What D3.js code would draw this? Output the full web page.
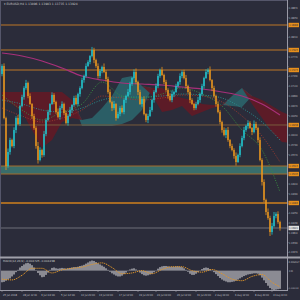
<!DOCTYPE html>
<html><head><meta charset="utf-8">
<script src="https://cdn.jsdelivr.net/npm/d3@7"></script>
<style>html,body{margin:0;padding:0;background:#2b2c3a;overflow:hidden}svg{display:block}</style>
</head><body>
<svg id="c" width="300" height="300"></svg>
<script>
// ---------- DATA ----------
const title = "EURUSD,H4  1.13896 1.13983 1.13735 1.13924";
const firstOpen = 1.17385;
const closes = [
 1.17565,1.16395,1.15315,1.1563,1.1590,1.15765,1.16125,1.16395,1.1626,1.16665,
 1.16868,1.1707,1.17183,1.1689,1.1671,1.1644,1.1617,1.15765,1.1545,1.15675,
 1.15563,1.16035,1.1635,1.1653,1.1671,1.16913,1.16755,1.1653,1.16418,1.1662,
 1.1671,1.16508,1.16283,1.1644,1.16575,1.16688,1.16845,1.1671,1.16935,1.1707,
 1.1725,1.1734,1.17565,1.17655,1.1779,1.17925,1.1770,1.17565,1.1734,1.17453,
 1.17543,1.1743,1.17273,1.1698,1.16755,1.1662,1.1671,1.16395,1.16485,1.1662,
 1.1653,1.1680,1.1689,1.1698,1.1716,1.17295,1.1743,1.17205,1.1698,1.1671,
 1.16823,1.16485,1.1635,1.1644,1.16575,1.1680,1.1698,1.17115,1.1734,1.17475,
 1.17363,1.17205,1.17025,1.1689,1.1680,1.16935,1.1698,1.17115,1.17205,1.1734,
 1.1743,1.17295,1.17115,1.1698,1.1680,1.1671,1.1662,1.1671,1.1680,1.16935,
 1.17115,1.17295,1.1743,1.17475,1.1725,1.1707,1.1689,1.1671,1.1653,1.16305,
 1.16125,1.16013,1.16125,1.1590,1.15765,1.15675,1.1554,1.15405,1.15563,1.15765,
 1.15945,1.16125,1.16215,1.16283,1.1617,1.1608,1.1626,1.1617,1.1590,1.1545,
 1.14955,1.1455,1.1428,1.14145,1.1383,1.13965,1.1419,1.14235,1.14055,1.1392
];
// wick lengths above / below the body, in pips
const hiPips = [
 4,6,3,8,5,3,6,4,7,3, 5,4,7,3,6,2,5,4,9,6, 3,7,4,5,2,6,4,3,8,5, 6,3,5,4,7,2,5,6,3,4,
 5,3,6,4,2,7,5,3,6,4, 3,8,4,5,6,3,7,2,5,4, 6,4,3,7,5,2,6,8,3,5, 4,6,2,5,7,3,4,6,5,3,
 7,3,5,4,6,8,3,5,2,6, 4,5,7,3,6,4,2,5,7,3, 5,3,6,4,8,2,5,3,6,4, 3,6,4,7,2,5,4,8,3,6,
 5,7,3,6,4,2,8,5,3,6, 4,6,3,8,5,7,9,4,6,3
];
const loPips = [
 5,3,9,4,6,3,5,7,2,4, 3,6,4,5,2,7,4,6,8,3, 6,4,5,3,7,2,5,4,3,6, 4,5,3,6,2,7,4,3,5,6,
 3,6,4,2,5,3,7,4,6,5, 5,2,6,4,3,7,4,6,2,5, 3,5,7,2,6,4,3,5,7,2, 6,3,5,7,2,4,6,3,5,4,
 2,5,4,6,3,5,7,2,4,6, 5,3,6,4,7,2,5,4,3,6, 4,6,2,5,3,7,4,6,3,5, 6,3,7,4,5,3,6,8,2,5,
 3,5,4,6,2,7,3,4,6,3, 8,5,7,4,9,6,3,5,4,6
];
const levelsMajor = [1.18488, 1.17925, 1.17475];
const levelMid = 1.16238;
const zone = [1.15135, 1.15315];
const levelLow = 1.14483;
const currentPrice = 1.1392;

const cloudIdx = [0,5,10,15,20,25,30,35,40,45,50,55,60,65,70,75,80,85,90,95,100,105,110,115,120,125,130,135,140,145];
const spanA = [1.1680,1.1671,1.1653,1.16125,1.1572,1.1590,1.16305,1.16395,1.1635,1.16395,1.1662,1.1689,1.17295,1.1734,1.17115,1.16913,1.1653,1.16575,1.16665,1.1644,1.1653,1.1662,1.16665,1.1689,1.1707,1.1671,1.16395,1.1608,1.15855,1.15833];
const spanB = [1.1698,1.1698,1.1698,1.1698,1.1698,1.1698,1.1698,1.1680,1.16215,1.16215,1.16215,1.16215,1.1626,1.1635,1.16575,1.1707,1.1707,1.16913,1.16845,1.1680,1.1671,1.16688,1.16688,1.16665,1.16643,1.1689,1.1680,1.16665,1.1653,1.1644];

const maIdx = [0,10,20,30,40,50,60,70,80,90,100,110,120,130,139];
const maLong  = [1.17858,1.1779,1.17678,1.1752,1.1734,1.1725,1.17183,1.1716,1.17138,1.17093,1.17048,1.1698,1.1689,1.1671,1.16463];
const maGreen = [1.16913,1.16575,1.1635,1.1653,1.1671,1.17205,1.1689,1.16845,1.16935,1.1707,1.16935,1.16665,1.16125,1.15675,1.1473];
const maRed   = [1.1662,1.1644,1.16305,1.16395,1.16575,1.1689,1.16845,1.1680,1.16845,1.16913,1.1689,1.16755,1.1644,1.1599,1.15405];
const maTeal  = [1.1680,1.1671,1.16575,1.1653,1.1662,1.1680,1.16868,1.16868,1.1689,1.16935,1.16913,1.16845,1.1662,1.16305,1.1590];

const macd = [
 -0.0030,-0.0029,-0.0026,-0.0023,-0.0020,-0.0015,-0.0010,-0.0004,0.0002,0.0008,
 0.0012,0.0016,0.0019,0.0020,0.0018,0.0014,0.0008,0.0001,-0.0006,-0.0012,
 -0.0017,-0.0016,-0.0011,-0.0005,0.0002,0.0007,0.0008,0.0006,0.0005,0.0006,
 0.0007,0.0006,0.0005,0.0006,0.0007,0.0008,0.0009,0.0009,0.0010,0.0012,
 0.0013,0.0015,0.0018,0.0021,0.0024,0.0026,0.0025,0.0022,0.0019,0.0016,
 0.0013,0.0010,0.0006,0.0002,-0.0003,-0.0007,-0.0010,-0.0013,-0.0015,-0.0015,
 -0.0013,-0.0009,-0.0005,-0.0001,0.0003,0.0005,0.0006,0.0003,-0.0001,-0.0005,
 -0.0009,-0.0012,-0.0013,-0.0012,-0.0010,-0.0008,-0.0004,0.0000,0.0005,0.0009,
 0.0011,0.0012,0.0012,0.0011,0.0010,0.0010,0.0010,0.0011,0.0011,0.0010,
 0.0009,0.0006,0.0002,-0.0003,-0.0008,-0.0011,-0.0011,-0.0008,-0.0004,0.0000,
 0.0004,0.0007,0.0008,0.0007,0.0004,0.0000,-0.0004,-0.0009,-0.0014,-0.0019,
 -0.0023,-0.0026,-0.0028,-0.0030,-0.0030,-0.0029,-0.0028,-0.0026,-0.0023,-0.0020,
 -0.0017,-0.0014,-0.0012,-0.0010,-0.0009,-0.0008,-0.0007,-0.0007,-0.0008,-0.0012,
 -0.0018,-0.0025,-0.0032,-0.0039,-0.0045,-0.0049,-0.0050,-0.0049,-0.0048,-0.0047
];
const signalIdx = [0,5,10,15,20,25,30,35,40,45,50,55,60,65,70,75,80,85,90,95,100,105,110,115,120,125,130,135,139];
const signal = [-0.0022,-0.0024,-0.0012,0.0006,0.0006,-0.0006,0.0002,0.0006,0.0009,0.0016,0.0020,0.0008,-0.0008,-0.0006,0.0000,-0.0008,0.0003,0.0010,0.0010,0.0000,-0.0004,0.0003,-0.0008,-0.0022,-0.0026,-0.0015,-0.0010,-0.0030,-0.0042];
const macdLabel = "MACD(12,26,9) -0.004725 -0.004238";
const macdTicks = ["0.003027", "0.00", "-0.005012"];

const priceTicks = [1.18870,1.18650,1.18430,1.18210,1.17990,1.17770,1.17550,1.17330,1.17110,1.16890,1.16670,1.16450,1.16230,1.16010,1.15790,1.15570,1.15350,1.15130,1.14910,1.14690,1.14470,1.14250,1.14030,1.13810,1.13590,1.13370];
const dateIdx = [0,10,19,29,39,48,58,68,77,87,97,106,116,126,135];
const dateLabels = ["25 Jun 2018","28 Jun 12:00","3 Jul 04:00","5 Jul 12:00","10 Jul 20:00","13 Jul 04:00","17 Jul 12:00","19 Jul 20:00","24 Jul 04:00","26 Jul 12:00","31 Jul 20:00","2 Aug 04:00","6 Aug 12:00","8 Aug 20:00","13 Aug 04:00"];

// ---------- DRAW ----------
const svg = d3.select("#c");
const L = 1, R = 287, T = 3, B = 256, MT = 259, MB = 290;
const font = "DejaVu Sans, Liberation Sans, sans-serif";
const x = d3.scaleLinear().domain([-0.5, 142.5]).range([L, R]);
const y = d3.scaleLinear().domain([1.13290, 1.18983]).range([B, T]);
const ym = d3.scaleLinear().domain([-0.0050, 0.0030]).range([MB, MT]);

svg.append("rect").attr("width",300).attr("height",300).attr("fill","#2b2c3a");
const defs = svg.append("defs");
defs.append("clipPath").attr("id","mainClip").append("rect").attr("x",L).attr("y",T).attr("width",R-L).attr("height",B-T);
defs.append("clipPath").attr("id","macdClip").append("rect").attr("x",L).attr("y",MT-1).attr("width",R-L).attr("height",MB-MT+1);

const main = svg.append("g").attr("clip-path","url(#mainClip)");

// Ichimoku cloud
const cloud = cloudIdx.map((d,k)=>({i:d,a:spanA[k],b:spanB[k]}));
main.append("path").datum(cloud)
  .attr("d", d3.area().x(d=>x(d.i)).y0(d=>y(d.b)).y1(d=>y(Math.max(d.a,d.b))))
  .attr("fill","#2c6c72").attr("opacity",0.8);
main.append("path").datum(cloud)
  .attr("d", d3.area().x(d=>x(d.i)).y0(d=>y(d.a)).y1(d=>y(Math.max(d.a,d.b))))
  .attr("fill","#621a26").attr("opacity",0.9);

// support zone
main.append("rect").attr("x",L).attr("width",R-L)
  .attr("y",y(zone[1])).attr("height",y(zone[0])-y(zone[1]))
  .attr("fill","#3b7471").attr("opacity",0.9);

// levels
const hl = (p,color,w)=>main.append("line").attr("x1",L).attr("x2",R).attr("y1",y(p)).attr("y2",y(p)).attr("stroke",color).attr("stroke-width",w);
levelsMajor.forEach(p=>hl(p,"#8e5e2e",1.5));
hl(levelMid,"#7a5c3c",1);
zone.forEach(p=>hl(p,"#a56c2a",1));
hl(levelLow,"#d0801e",1.5);
hl(currentPrice,"#6e6e78",1);

// moving averages
const maLine = d3.line().x((d,k)=>x(maIdx[k])).y(d=>y(d)).curve(d3.curveMonotoneX);
main.append("path").datum(maTeal).attr("d",maLine).attr("fill","none").attr("stroke","#2a8a8a").attr("stroke-width",1).attr("stroke-dasharray","1,1.5");
main.append("path").datum(maRed).attr("d",maLine).attr("fill","none").attr("stroke","#9a3a30").attr("stroke-width",1).attr("stroke-dasharray","1,1.5");
main.append("path").datum(maGreen).attr("d",maLine).attr("fill","none").attr("stroke","#3a8a40").attr("stroke-width",1).attr("stroke-dasharray","1,1.5");
main.append("path").datum(maLong).attr("d",maLine).attr("fill","none").attr("stroke","#a8307a").attr("stroke-width",1.2);

// candles
const candles = closes.map((c,i)=>{
  const o = i===0?firstOpen:closes[i-1];
  return {i,o,c,h:Math.max(o,c)+hiPips[i]*0.0001,l:Math.min(o,c)-loPips[i]*0.0001};
});
const col = d=>d.c>=d.o?"#22c6cf":"#e8961e";
main.selectAll("line.wk").data(candles).join("line").attr("class","wk")
  .attr("x1",d=>x(d.i)).attr("x2",d=>x(d.i)).attr("y1",d=>y(d.h)).attr("y2",d=>y(d.l))
  .attr("stroke",col).attr("stroke-width",0.8);
main.selectAll("rect.cd").data(candles).join("rect").attr("class","cd")
  .attr("x",d=>x(d.i)-0.7).attr("width",1.4)
  .attr("y",d=>Math.min(y(d.o),y(d.c)))
  .attr("height",d=>Math.max(1,Math.abs(y(d.o)-y(d.c))))
  .attr("fill",col);

// frame
svg.append("rect").attr("x",0.5).attr("y",0.5).attr("width",R).attr("height",MB).attr("fill","none").attr("stroke","#55566a").attr("stroke-width",1);
svg.append("line").attr("x1",R+0.5).attr("x2",R+0.5).attr("y1",0).attr("y2",MB+1).attr("stroke","#9a9aa6").attr("stroke-width",1);
svg.append("line").attr("x1",0).attr("x2",300).attr("y1",257.5).attr("y2",257.5).attr("stroke","#a0a0aa").attr("stroke-width",2);
svg.append("line").attr("x1",0).attr("x2",R+1).attr("y1",MB+0.5).attr("y2",MB+0.5).attr("stroke","#9a9aa6").attr("stroke-width",1);

// title
svg.append("text").attr("x",4).attr("y",5).text("\u25BE "+title).attr("font-family",font).attr("font-size",3).attr("fill","#c8c8c8");

// price axis
const ax = svg.append("g");
const tagged = levelsMajor.concat([levelMid], zone, [levelLow, currentPrice]);
const small = (sel,xx,yy,t,len,fill)=>sel.append("text").attr("x",xx).attr("y",yy).text(t)
  .attr("font-family",font).attr("font-size",2.8).attr("fill",fill)
  .attr("textLength",len).attr("lengthAdjust","spacingAndGlyphs");
priceTicks.forEach(p=>{
  ax.append("line").attr("x1",R).attr("x2",R+1.5).attr("y1",y(p)).attr("y2",y(p)).attr("stroke","#9a9aa6").attr("stroke-width",0.6);
  if (tagged.every(q=>Math.abs(y(q)-y(p))>4.5)) small(ax,R+2,y(p)+1,p.toFixed(5),8.5,"#c0c0c8");
});
const tag = (p,bg,fg)=>{
  ax.append("rect").attr("x",R+1.5).attr("y",y(p)-2.2).attr("width",10.5).attr("height",4.4).attr("fill",bg);
  small(ax,R+2.2,y(p)+1,p.toFixed(5),8.5,fg);
};
levelsMajor.forEach(p=>tag(p,"#e8901c","#2b2c3a"));
tag(levelMid,"#e8901c","#2b2c3a");
zone.forEach(p=>tag(p,"#e8901c","#2b2c3a"));
tag(levelLow,"#e8901c","#2b2c3a");
tag(currentPrice,"#e0e0e0","#2b2c3a");

// MACD panel
const mg = svg.append("g").attr("clip-path","url(#macdClip)");
mg.selectAll("rect.h").data(macd).join("rect").attr("class","h")
  .attr("x",(d,i)=>x(i)-0.8).attr("width",1.6)
  .attr("y",d=>Math.min(ym(0),ym(d))).attr("height",d=>Math.max(0.5,Math.abs(ym(d)-ym(0))))
  .attr("fill","#a4a4aa");
mg.append("path").datum(signal)
  .attr("d",d3.line().x((d,k)=>x(signalIdx[k])).y(d=>ym(d)).curve(d3.curveMonotoneX))
  .attr("fill","none").attr("stroke","#e0962a").attr("stroke-width",1).attr("stroke-dasharray","1.2,0.8");
svg.append("text").attr("x",3).attr("y",262).text(macdLabel).attr("font-family",font).attr("font-size",2.8).attr("fill","#c8c8c8");
svg.append("text").attr("x",R+1.5).attr("y",262.5).text(macdTicks[0]).attr("font-family",font).attr("font-size",2.3).attr("fill","#c0c0c8");
small(svg,R+2,ym(0)+1,macdTicks[1],4,"#c0c0c8");
svg.append("text").attr("x",R+1).attr("y",288.5).text(macdTicks[2]).attr("font-family",font).attr("font-size",2.05).attr("fill","#c0c0c8");

// date axis
dateIdx.forEach((d,k)=>{
  svg.append("line").attr("x1",x(d)).attr("x2",x(d)).attr("y1",MB).attr("y2",MB+2).attr("stroke","#9a9aa6").attr("stroke-width",0.6);
  small(svg,x(d)+1,296,dateLabels[k],Math.min(14, dateLabels[k].length*1.3),"#c0c0c8");
});
</script>
</body></html>
